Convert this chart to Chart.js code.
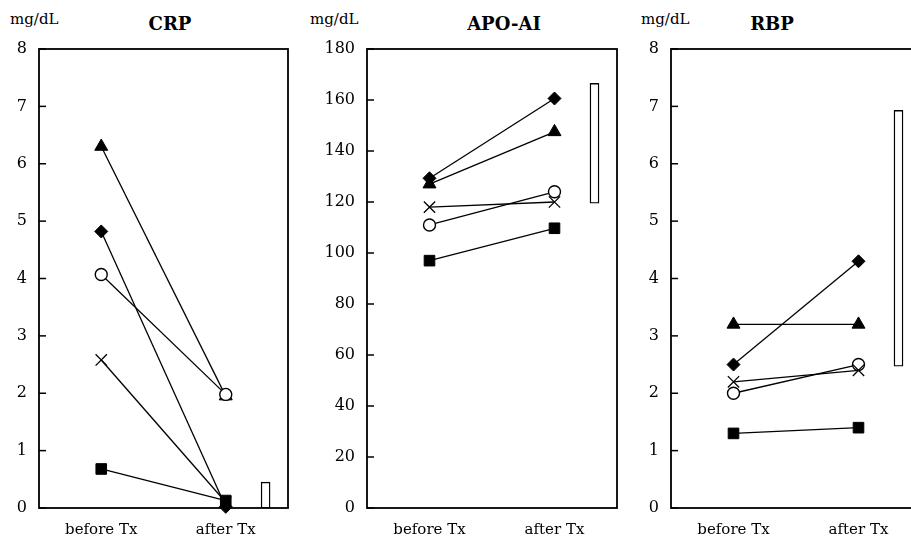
<!DOCTYPE html>
<html>
<head>
<meta charset="utf-8">
<script src="https://cdn.jsdelivr.net/npm/chart.js@4.4.1/dist/chart.umd.min.js"></script>
<style>
    html, body { margin: 0; padding: 0; background: #fff; }
    body { position: relative; width: 911px; height: 539px; overflow: hidden; }
    .panel { position: absolute; top: 0; height: 539px; }
    .txt { position: absolute; font-family: 'DejaVu Serif', serif; color: #000; white-space: nowrap; line-height: 1; }
    .unit { font-size: 15px; top: 12px; }
    .title { font-size: 18px; font-weight: bold; top: 15px; transform: translateX(-50%); }
</style>
</head>
<body>

<div class="txt unit" style="left:10px">mg/dL</div>
<div class="txt title" style="left:170px">CRP</div>
<div class="txt unit" style="left:310px">mg/dL</div>
<div class="txt title" style="left:504px">APO-AI</div>
<div class="txt unit" style="left:641px">mg/dL</div>
<div class="txt title" style="left:772px">RBP</div>

<div class="panel" style="left:-21px;width:319px"><canvas id="crpChart"></canvas></div>
<div class="panel" style="left:307px;width:320px"><canvas id="apoChart"></canvas></div>
<div class="panel" style="left:611px;width:320px"><canvas id="rbpChart"></canvas></div>

<script>
// ─── Data ─────────────────────────────────────────────────────────────────────
const categories = ['before Tx', 'after Tx'];

// CRP (mg/dL)
const crpSquare   = [0.68, 0.13];
const crpCross    = [2.58, 0.10];
const crpCircle   = [4.07, 1.98];
const crpDiamond  = [4.82, 0.02];
const crpTriangle = [6.30, 1.95];
const crpRef      = [0, 0.45];
const crpTicks    = [0, 1, 2, 3, 4, 5, 6, 7, 8];

// APO-AI (mg/dL)
const apoSquare   = [97, 109.7];
const apoCross    = [118, 120];
const apoCircle   = [111, 124];
const apoDiamond  = [129.3, 160.6];
const apoTriangle = [127, 147.5];
const apoRef      = [119.5, 166.5];
const apoTicks    = [0, 20, 40, 60, 80, 100, 120, 140, 160, 180];

// RBP (mg/dL)
const rbpSquare   = [1.3, 1.4];
const rbpCross    = [2.2, 2.4];
const rbpCircle   = [2.0, 2.5];
const rbpDiamond  = [2.5, 4.3];
const rbpTriangle = [3.2, 3.2];
const rbpRef      = [2.47, 6.93];
const rbpTicks    = [0, 1, 2, 3, 4, 5, 6, 7, 8];

// ─── Styles ───────────────────────────────────────────────────────────────────
const FONT   = { family: "'DejaVu Serif', serif", size: 15 };
const Y_FONT = { family: "'DejaVu Serif', serif", size: 16 };
const REF_X = 2.32;   // horizontal slot of the reference-range bar

// first dataset is painted last (on top) by Chart.js
const MARKERS = [
    { pointStyle: 'rect',     radius: 7.5, fill: '#000', bw: 1 },
    { pointStyle: 'crossRot', radius: 8,   fill: '#000', bw: 1.3 },
    { pointStyle: 'circle',   radius: 6,   fill: '#fff', bw: 1.4 },
    { pointStyle: 'rectRot',  radius: 6.5, fill: '#000', bw: 1 },
    { pointStyle: 'triangle', radius: 7.5, fill: '#000', bw: 1 }
];

// Box round the plot area plus short inward tick marks on the y axis
const framePlugin = {
    id: 'frame',
    beforeDatasetsDraw(chart) {
        const { ctx, chartArea: a, scales } = chart;
        ctx.save();
        ctx.strokeStyle = '#000';
        ctx.lineWidth = 1.8;
        ctx.strokeRect(a.left, a.top, a.right - a.left, a.bottom - a.top);
        ctx.lineWidth = 1.5;
        scales.y.ticks.forEach(t => {
            const y = scales.y.getPixelForValue(t.value);
            ctx.beginPath();
            ctx.moveTo(a.left, y);
            ctx.lineTo(a.left + 7, y);
            ctx.stroke();
        });
        ctx.restore();
    }
};

function makePanel(id, seriesList, ref, ticks) {
    const datasets = seriesList.map((vals, i) => ({
        type: 'line',
        data: vals.map((v, j) => ({ x: j + 1, y: v })),
        borderColor: '#000',
        borderWidth: 1.3,
        tension: 0,
        pointStyle: MARKERS[i].pointStyle,
        pointRadius: MARKERS[i].radius,
        pointHoverRadius: MARKERS[i].radius,
        pointBackgroundColor: MARKERS[i].fill,
        pointBorderColor: '#000',
        pointBorderWidth: MARKERS[i].bw,
        clip: false
    }));

    datasets.push({
        type: 'bar',
        data: [{ x: REF_X, y: ref }],
        backgroundColor: '#fff',
        borderColor: '#000',
        borderWidth: 1.4,
        borderSkipped: false,
        barThickness: 9
    });

    return new Chart(document.getElementById(id), {
        type: 'line',
        data: { datasets },
        options: {
            responsive: true,
            maintainAspectRatio: false,
            animation: false,
            layout: { padding: { top: 49, right: 10, left: 0, bottom: 0 } },
            plugins: { legend: { display: false }, tooltip: { enabled: false } },
            scales: {
                x: {
                    type: 'linear',
                    min: 0.5,
                    max: 2.5,
                    offset: false,
                    grid: { display: false, drawTicks: false },
                    border: { display: false },
                    afterBuildTicks: s => { s.ticks = [{ value: 1 }, { value: 2 }]; },
                    afterFit: s => { s.height = 31; },
                    ticks: {
                        callback: v => categories[v - 1] ?? '',
                        autoSkip: false,
                        maxRotation: 0,
                        padding: 13,
                        color: '#000',
                        font: FONT
                    }
                },
                y: {
                    min: ticks[0],
                    max: ticks[ticks.length - 1],
                    grid: { display: false, drawTicks: false },
                    border: { display: false },
                    afterBuildTicks: s => { s.ticks = ticks.map(v => ({ value: v })); },
                    afterFit: s => { s.width = 60; },
                    ticks: { padding: 12, color: '#000', font: Y_FONT }
                }
            }
        },
        plugins: [framePlugin]
    });
}

makePanel('crpChart', [crpSquare, crpCross, crpCircle, crpDiamond, crpTriangle], crpRef, crpTicks);
makePanel('apoChart', [apoSquare, apoCross, apoCircle, apoDiamond, apoTriangle], apoRef, apoTicks);
makePanel('rbpChart', [rbpSquare, rbpCross, rbpCircle, rbpDiamond, rbpTriangle], rbpRef, rbpTicks);
</script>
</body>
</html>
